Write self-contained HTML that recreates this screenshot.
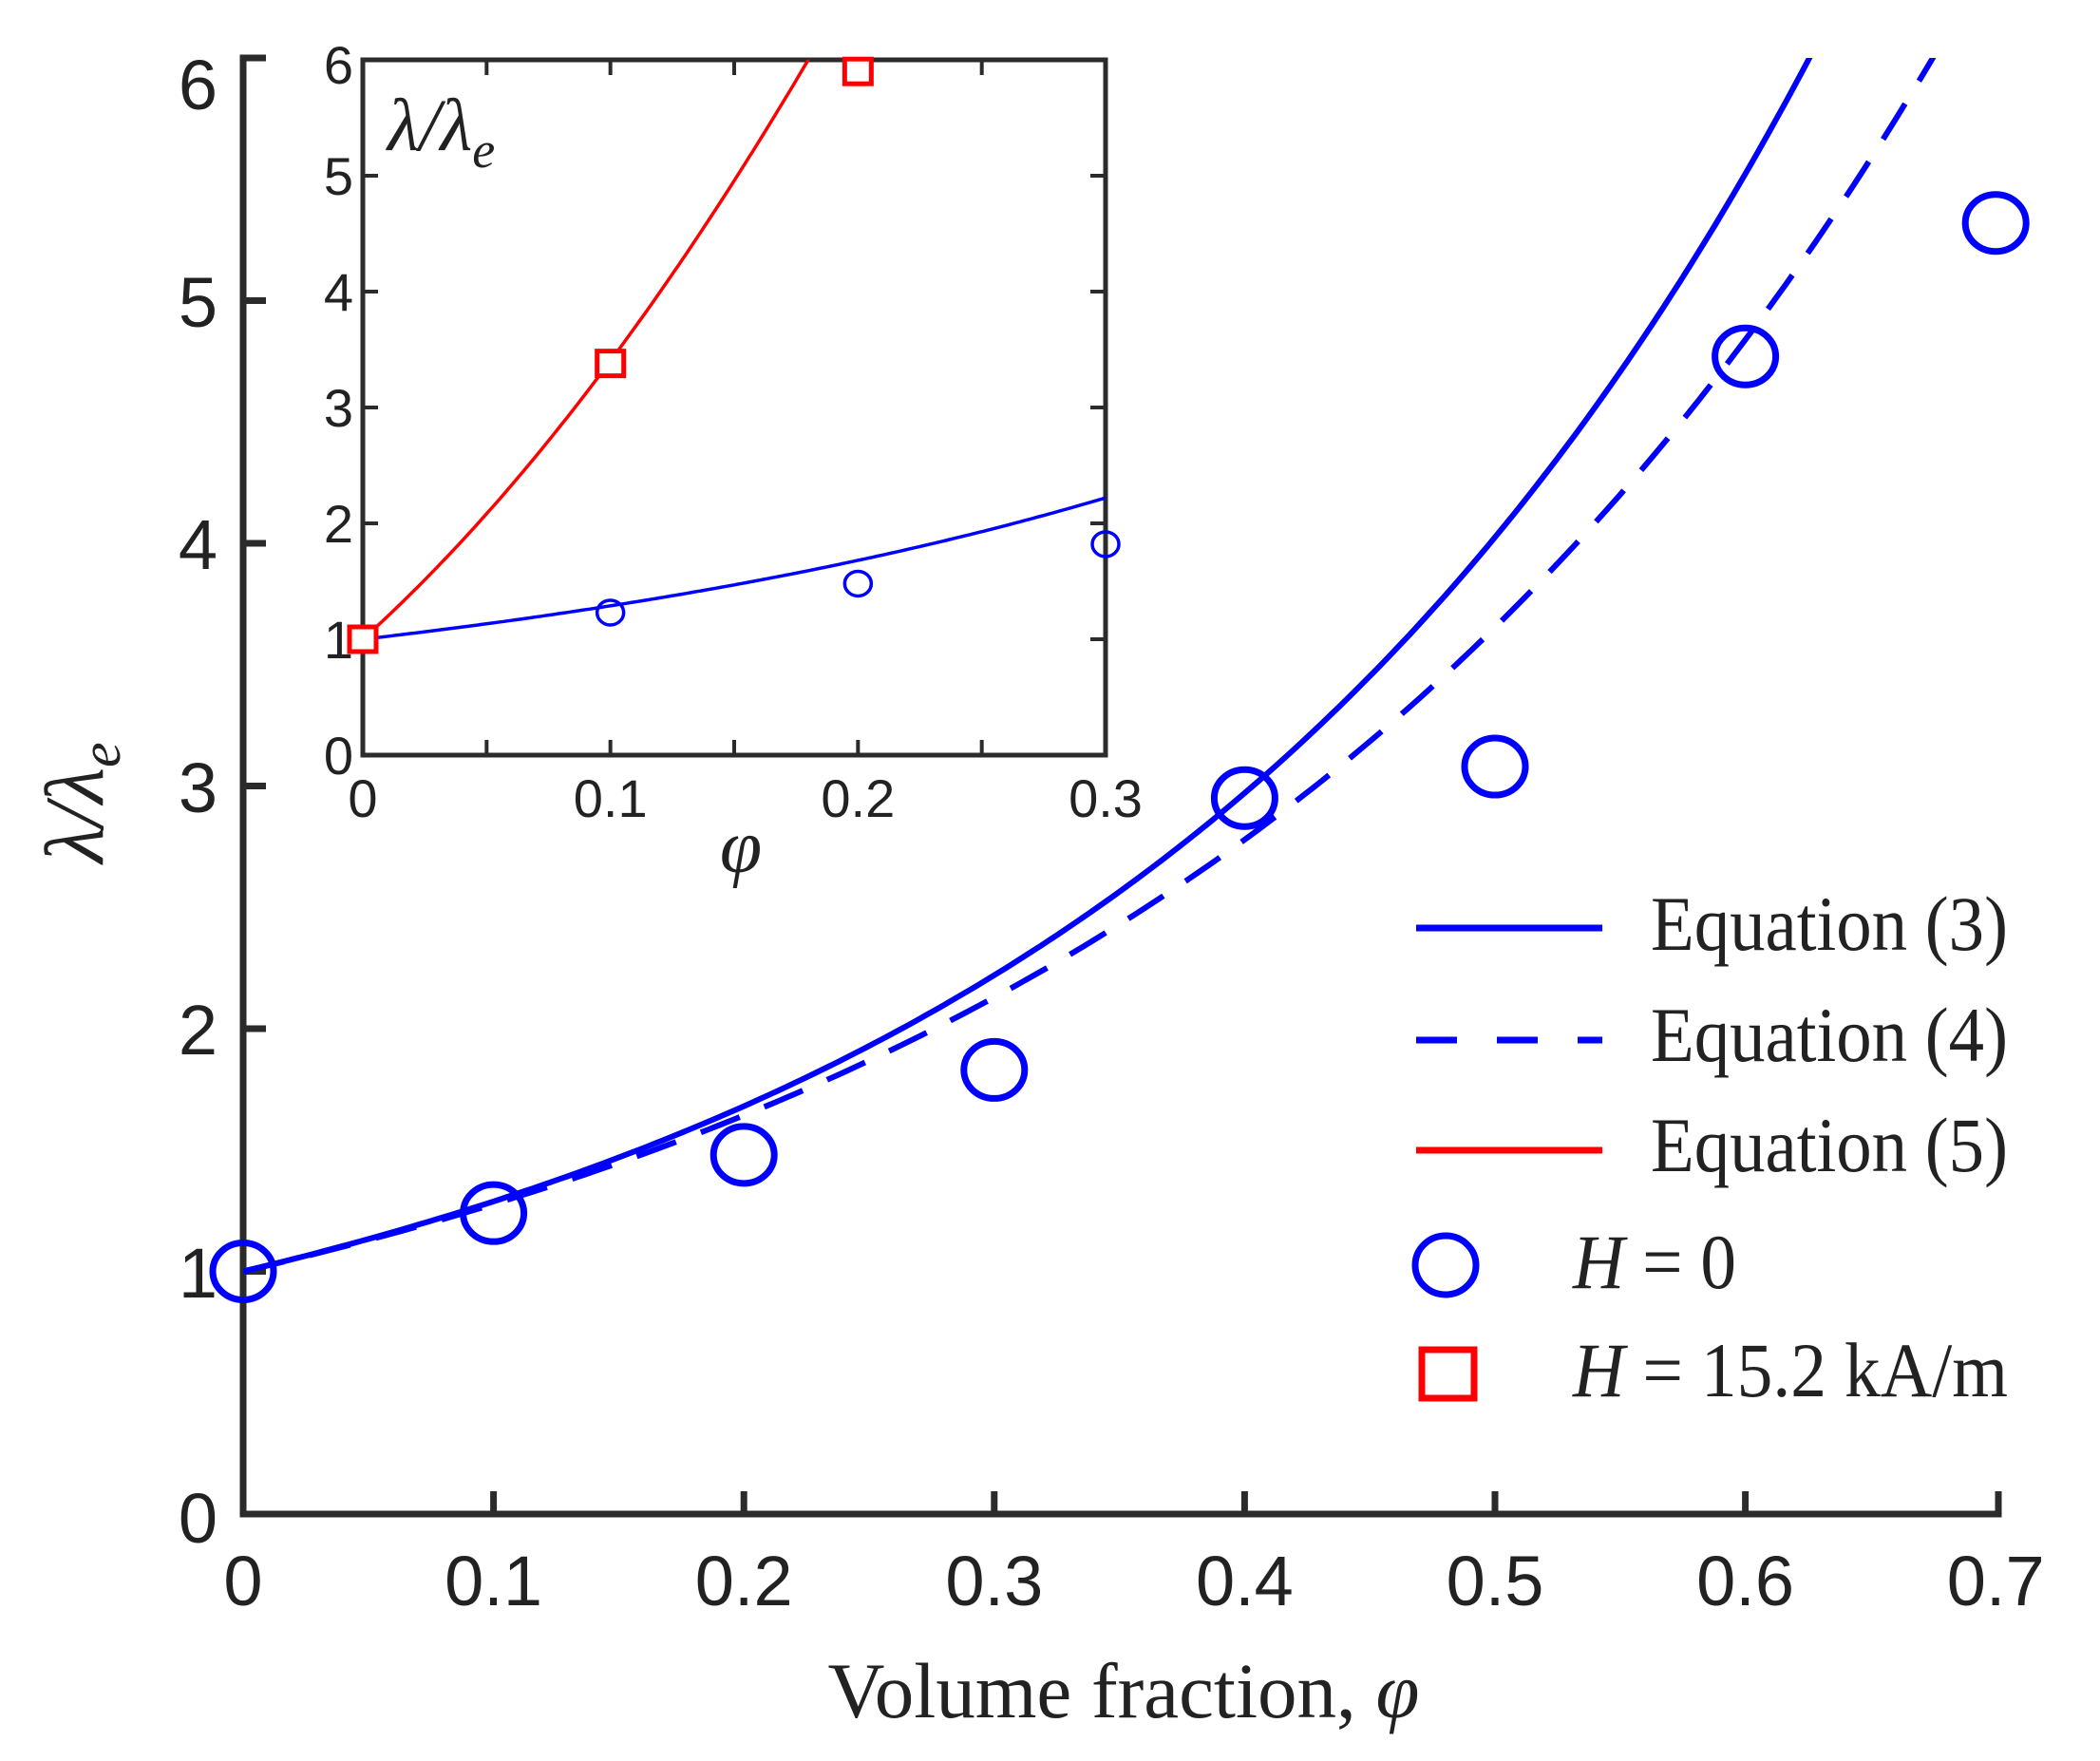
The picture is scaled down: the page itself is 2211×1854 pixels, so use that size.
<!DOCTYPE html>
<html><head><meta charset="utf-8"><style>
html,body{margin:0;padding:0;background:#fff;}
svg{display:block;}
.tk{font-family:"Liberation Sans",Arial,sans-serif;fill:#222;}
.tm{font-family:"Liberation Serif","Times New Roman",serif;fill:#222;}
</style></head><body>
<svg id="s" width="2211" height="1854" viewBox="0 0 2211 1854" xmlns="http://www.w3.org/2000/svg">
<defs>
<clipPath id="cm"><rect x="256" y="61" width="1955" height="1540"/></clipPath>
<clipPath id="ci"><rect x="382" y="63" width="782" height="732"/></clipPath>
</defs>
<rect width="2211" height="1854" fill="#fff"/>
<g stroke="#2b2b2b" stroke-width="7" fill="none">
<path d="M280 61 H256 V1594 H2104 V1570"/>
<path id="mt" d=""/>
</g>
<g id="mainlabels"></g>
<g clip-path="url(#cm)" fill="none" stroke="#0000ff" stroke-width="6">
<path id="eq3" d=""/>
<path id="eq4" d="" stroke-dasharray="44,28"/>
</g>
<g id="mcirc" fill="none" stroke="#0000ff" stroke-width="7"></g>
<rect x="382" y="63" width="782" height="732" fill="#fff" stroke="#2b2b2b" stroke-width="5"/>
<g stroke="#2b2b2b" stroke-width="4" fill="none"><path id="it" d=""/></g>
<g clip-path="url(#ci)" fill="none" stroke-width="3.5">
<path id="ired" d="" stroke="#ff0000"/>
<path id="iblue" d="" stroke="#0000ff"/>
</g>
<g id="icirc" fill="none" stroke="#0000ff" stroke-width="3.5"></g>
<g id="isq" fill="#fff" stroke="#ff0000" stroke-width="5"></g>
<g id="ilabels"></g>
<text class="tm" x="408" y="158" font-size="78" font-style="italic">λ/λ<tspan font-size="54" dy="18">e</tspan></text>
<text class="tm" x="780" y="918" font-size="80" font-style="italic" text-anchor="middle">φ</text>
<text class="tm" x="1183" y="1808" font-size="83" text-anchor="middle">Volume fraction, <tspan font-style="italic">φ</tspan></text>
<text class="tm" font-size="88" font-style="italic" transform="translate(108,845) rotate(-90)" text-anchor="middle">λ/λ<tspan font-size="60" dy="18">e</tspan></text>
<g stroke-width="7" fill="none">
<line x1="1491" y1="977" x2="1687" y2="977" stroke="#0000ff"/>
<line x1="1491" y1="1095" x2="1687" y2="1095" stroke="#0000ff" stroke-dasharray="43,42"/>
<line x1="1491" y1="1211" x2="1687" y2="1211" stroke="#ff0000"/>
<ellipse cx="1522" cy="1332" rx="32" ry="31" stroke="#0000ff"/>
<rect x="1497" y="1421" width="55" height="51" stroke="#ff0000"/>
</g>
<g class="tm" font-size="82">
<text x="1738" y="1000" textLength="376" lengthAdjust="spacingAndGlyphs">Equation (3)</text>
<text x="1738" y="1117" textLength="376" lengthAdjust="spacingAndGlyphs">Equation (4)</text>
<text x="1738" y="1233" textLength="376" lengthAdjust="spacingAndGlyphs">Equation (5)</text>
<text x="1656" y="1356" textLength="172" lengthAdjust="spacingAndGlyphs"><tspan font-style="italic">H</tspan> = 0</text>
<text x="1656" y="1470" textLength="458" lengthAdjust="spacingAndGlyphs"><tspan font-style="italic">H</tspan> = 15.2 kA/m</text>
</g>
</svg>
<script>
var NS="http://www.w3.org/2000/svg";
function X(v){return 256+2636*v;}function Y(u){return 1594-255.5*u;}
function XI(v){return 382+2606.7*v;}function YI(u){return 795-122*u;}
function el(p,t,a,txt){var e=document.createElementNS(NS,t);for(var k in a)e.setAttribute(k,a[k]);if(txt!=null)e.textContent=txt;document.getElementById(p).appendChild(e);return e;}
function f3(p){return Math.exp(2.47*p+0.63*p*p);}
function f4(p){return Math.exp(2.41*p+0.363*p*p);}
function fr(p){return 1+19.3*p+47.2*p*p;}
function path(f,X,Y,a,b){var d="";for(var i=0;i<=200;i++){var p=a+(b-a)*i/200;d+=(i?"L":"M")+X(p).toFixed(1)+" "+Y(f(p)).toFixed(1);}return d;}
document.getElementById("eq3").setAttribute("d",path(f3,X,Y,0,0.7));
document.getElementById("eq4").setAttribute("d",path(f4,X,Y,0,0.7));
document.getElementById("ired").setAttribute("d",path(fr,XI,YI,0,0.3));
document.getElementById("iblue").setAttribute("d",path(f3,XI,YI,0,0.3));
var d="";
for(var u=1;u<=5;u++){d+="M256 "+Y(u)+"H280";}
for(var i=1;i<=6;i++){d+="M"+X(i/10)+" 1594V1570";}
document.getElementById("mt").setAttribute("d",d);
var ylab=[["0",1597],["1",1339],["2",1083],["3",828],["4",572],["5",317],["6",88]];
ylab.forEach(function(l){el("mainlabels","text",{"class":"tk",x:229,y:l[1]+27,"font-size":74,"text-anchor":"end"},l[0]);});
for(var i=0;i<=7;i++){el("mainlabels","text",{"class":"tk",x:X(i/10),y:1690,"font-size":74,"text-anchor":"middle"},i==0?"0":"0."+i);}
[[0,1],[0.1,1.24],[0.2,1.48],[0.3,1.83],[0.4,2.95],[0.5,3.08],[0.6,4.77],[0.7,5.32]].forEach(function(c){
el("mcirc","ellipse",{cx:X(c[0]),cy:Y(c[1]),rx:32,ry:30});});
var d2="";
for(var u=1;u<=5;u++){d2+="M382 "+YI(u)+"H398M1164 "+YI(u)+"H1148";}
for(var i=1;i<=5;i++){var x=XI(i*0.05);d2+="M"+x+" 795V779M"+x+" 63V79";}
document.getElementById("it").setAttribute("d",d2);
for(var u=0;u<=6;u++){var yy=u==6?88:YI(u)+20;el("ilabels","text",{"class":"tk",x:372,y:yy,"font-size":56,"text-anchor":"end"},""+u);}
for(var i=0;i<=3;i++){el("ilabels","text",{"class":"tk",x:XI(i/10),y:860,"font-size":56,"text-anchor":"middle"},i==0?"0":"0."+i);}
[[0.1,1.23],[0.2,1.48],[0.3,1.82]].forEach(function(c){el("icirc","ellipse",{cx:XI(c[0]),cy:YI(c[1]),rx:14,ry:13});});
[[0,1],[0.1,3.38],[0.2,5.9]].forEach(function(c){el("isq","rect",{x:XI(c[0])-14,y:YI(c[1])-13,width:28,height:26});});
</script>
</body></html>
